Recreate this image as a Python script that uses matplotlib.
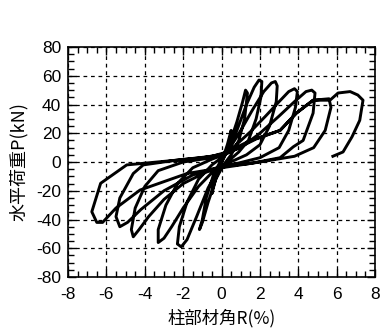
import numpy as np
import matplotlib
matplotlib.use('Agg')
from matplotlib import pyplot as plt
from matplotlib.ticker import MultipleLocator

plt.rcParams['font.family'] = ['Noto Sans CJK JP', 'DejaVu Sans']
plt.rcParams['axes.unicode_minus'] = False

# hysteresis trace: drift angle R (%) and load P (kN)
R = [0.0, 0.3, 0.5, 0.45, 0.2, -0.1, -0.35, -0.5, -0.45, -0.2, 0.1,
     # cycle +1.3 / -1.1
     0.4, 0.8, 1.1, 1.25, 1.35, 1.2, 0.9, 0.5, 0.1, -0.3, -0.7, -1.0, -1.15, -1.0, -0.8, -0.4, 0.0,
     # cycle +2.0 / -2.2
     0.3, 0.8, 1.3, 1.7, 1.95, 2.1, 2.05, 1.8, 1.4, 0.9, 0.3, -0.2, -0.7, -1.3, -1.8, -2.1, -2.3, -2.2, -1.8, -1.2, -0.5, 0.1,
     # cycle +2.8 / -3.2
     0.4, 1.0, 1.6, 2.2, 2.6, 2.8, 2.9, 2.85, 2.5, 2.0, 1.3, 0.3, -0.4, -1.2, -2.0, -2.6, -3.0, -3.3, -3.3, -2.9, -2.3, -1.5, -0.5, 0.1,
     # cycle +3.8 / -4.5
     0.6, 1.5, 2.3, 3.0, 3.5, 3.8, 3.95, 3.85, 3.5, 3.0, 2.0, 0.5, -0.8, -2.0, -3.0, -3.8, -4.3, -4.6, -4.7, -4.5, -4.0, -3.3, -2.0, -0.5, 0.2,
     # cycle +4.7 / -5.4
     1.0, 2.0, 3.0, 3.8, 4.4, 4.7, 4.87, 4.77, 4.25, 3.74, 3.05, 1.5, 0.0, -1.5, -3.0, -4.2, -4.9, -5.3, -5.5, -5.3, -4.6, -4.08, -2.5, -0.5, 0.3,
     # cycle +5.6 / -6.8
     1.5, 3.05, 3.9, 4.77, 5.6, 5.7, 5.4, 4.8, 3.8, 2.0, 0.0, -1.8, -4.25, -5.5, -6.2, -6.5, -6.76, -6.3, -4.94, -3.2, -1.0, 0.3,
     # final push
     1.8, 3.05, 3.9, 4.77, 5.65, 6.07, 6.7, 7.1, 7.37, 7.2, 6.8, 6.33, 5.8]
P = [0.0, 12, 22, 16, 5, -3, -14, -22, -16, -5, 3,
     12, 28, 42, 50, 48, 30, 15, 5, -2, -12, -28, -42, -47, -40, -25, -8, 2,
     7, 22, 40, 52, 57, 56, 45, 30, 15, 7, 0, -6, -18, -38, -54, -59, -57, -45, -28, -12, -2, 4,
     9, 22, 36, 49, 55, 56, 53, 42, 25, 12, 5, -1, -6, -17, -32, -45, -53, -56, -47, -30, -15, -4, 2, 5,
     10, 21, 32, 42, 49, 51, 49, 38, 22, 10, 3, -2, -7, -15, -26, -38, -47, -52, -47, -32, -17, -6, 0, 3, 6,
     10, 20, 32, 42, 49, 50, 48, 34, 15, 10.6, 3, -1, -3, -9, -20, -33, -42, -45, -38, -25, -8, -2, 1, 4, 7,
     15, 22, 34, 43, 44, 38, 22, 10, 4, 0, -4, -8, -19.5, -32, -42, -42, -34.6, -14.8, -2, 0.2, 3, 6,
     16, 22, 34, 43, 43, 48, 49, 46.6, 43, 29, 17.6, 7, 4]

xticks = [-8, -6, -4, -2, 0, 2, 4, 6, 8]
yticks = [-80, -60, -40, -20, 0, 20, 40, 60, 80]

fig = plt.figure(figsize=(3.81, 3.31), dpi=100)
ax = fig.add_axes([0.1785, 0.163, 0.806, 0.695])
ax.plot(R, P, color='black', lw=2.1, solid_joinstyle='round')

ax.set_xlim(-8, 8)
ax.set_ylim(-80, 80)
ax.set_xticks(xticks)
ax.set_yticks(yticks)
ax.set_xticklabels([str(v) for v in xticks], family='Liberation Sans')
ax.set_yticklabels([str(v) for v in yticks], family='Liberation Sans')
ax.xaxis.set_minor_locator(MultipleLocator(0.5))
ax.yaxis.set_minor_locator(MultipleLocator(5))
ax.tick_params(which='both', direction='in', top=True, right=True, labelsize=12.5)
ax.tick_params(which='major', length=6, width=1)
ax.tick_params(axis='x', which='major', pad=7)
ax.tick_params(axis='y', which='major', pad=5)
ax.tick_params(which='minor', length=4.5, width=1)
ax.grid(True, which='major', color='black', linestyle=(0, (3, 3)), linewidth=0.9)
for s in ax.spines.values():
    s.set_linewidth(1.2)

ax.set_xlabel('柱部材角R(%)', fontsize=12.5, labelpad=5)
ax.set_ylabel('水平荷重P(kN)', fontsize=13, labelpad=6)

fig.savefig('out.png', dpi=100)
